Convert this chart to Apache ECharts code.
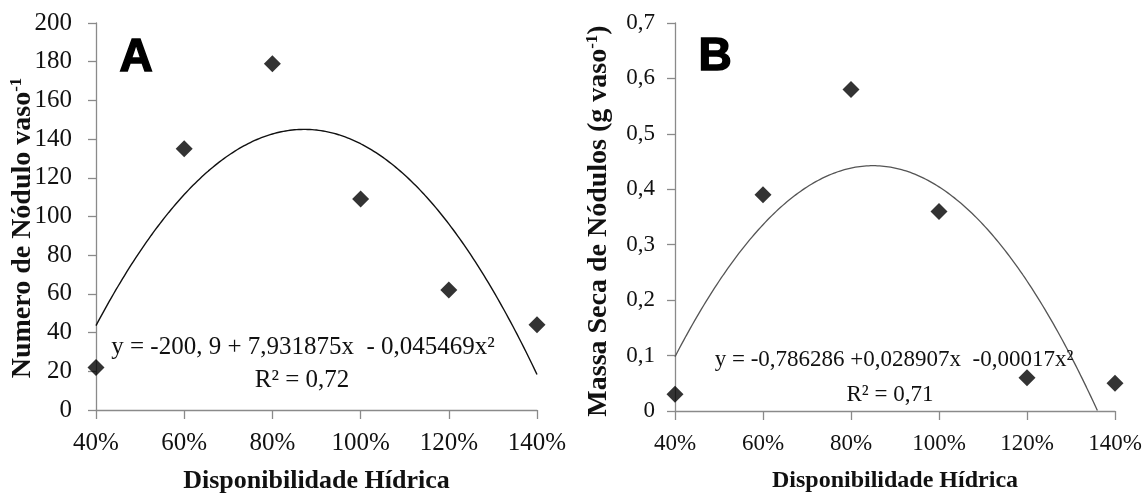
<!DOCTYPE html>
<html>
<head>
<meta charset="utf-8">
<script src="https://cdn.jsdelivr.net/npm/echarts@6/dist/echarts.min.js"></script>
<style>html,body{margin:0;padding:0;background:#fff}#c{width:1146px;height:499px}</style>
</head>
<body>
<div id="c"></div>
<script>
// ---- data ----
const waterLevels = [40, 60, 80, 100, 120, 140];          // Disponibilidade Hídrica (%)
const noduleCount = [22, 135, 179, 109, 62, 44];          // Panel A
const noduleMass = [0.03, 0.39, 0.58, 0.36, 0.06, 0.05];  // Panel B
// fitted quadratic coefficients printed on the chart: y = c0 + c1*x + c2*x^2
const fitA = [-200.9, 7.931875, -0.045469];
const fitB = [-0.786286, 0.028907, -0.00017];
const eqA = ['y = -200, 9 + 7,931875x  - 0,045469x²', 'R² = 0,72'];
const eqB = ['y = -0,786286 +0,028907x  -0,00017x²', 'R² = 0,71'];

const serif = '"Liberation Serif", "Times New Roman", serif';

function fitCurve(c, x0, x1) {
  const pts = [];
  const f = x => c[0] + c[1] * x + c[2] * x * x;
  for (let x = x0; x <= x1 + 1e-9; x += 0.5) {
    const y = f(x);
    if (y >= 0) pts.push([x, y]);
    else {
      // end the curve where it meets the x axis
      const d = Math.sqrt(c[1] * c[1] - 4 * c[2] * c[0]);
      const r = (-c[1] - d) / (2 * c[2]);
      pts.push([r, 0]);
      break;
    }
  }
  return pts;
}

const axisColor = '#8a8a8a';

function xAxisCfg(gi, fs, nfs) {
  return {
    gridIndex: gi, type: 'value', min: 40, max: 140, interval: 20,
    axisLine: { lineStyle: { color: axisColor, width: 1.3 } },
    axisTick: { show: true, length: 9, lineStyle: { color: axisColor, width: 1.3 } },
    splitLine: { show: false },
    axisLabel: { color: '#111', fontFamily: serif, fontSize: fs, margin: 21, formatter: v => v + '%' },
    name: 'Disponibilidade Hídrica', nameLocation: 'middle', nameGap: 58,
    nameTextStyle: { color: '#111', fontFamily: serif, fontSize: nfs, fontWeight: 'bold' }
  };
}

const option = {
  animation: false,
  backgroundColor: '#fff',
  grid: [
    { left: 96, right: 609, top: 23, bottom: 89 },
    { left: 675, right: 31, top: 23, bottom: 88 }
  ],
  xAxis: [xAxisCfg(0, 25, 26), xAxisCfg(1, 23, 24)],
  yAxis: [
    {
      gridIndex: 0, type: 'value', min: 0, max: 200, interval: 20,
      axisLine: { show: true, lineStyle: { color: axisColor, width: 1.3 } },
      axisTick: { show: true, length: 8, lineStyle: { color: axisColor, width: 1.3 } },
      splitLine: { show: false },
      axisLabel: { color: '#111', fontFamily: serif, fontSize: 25, margin: 24 }
    },
    {
      gridIndex: 1, type: 'value', min: 0, max: 0.7, interval: 0.1,
      axisLine: { show: true, lineStyle: { color: axisColor, width: 1.3 } },
      axisTick: { show: true, length: 8, lineStyle: { color: axisColor, width: 1.3 } },
      splitLine: { show: false },
      axisLabel: { color: '#111', fontFamily: serif, fontSize: 23, margin: 20,
        formatter: v => String(+v.toFixed(1)).replace('.', ',') }
    }
  ],
  series: [
    {
      type: 'line', xAxisIndex: 0, yAxisIndex: 0, data: fitCurve(fitA, 40, 140),
      showSymbol: false, silent: true, lineStyle: { color: '#111', width: 1.4 }, z: 2
    },
    {
      type: 'scatter', xAxisIndex: 0, yAxisIndex: 0,
      data: waterLevels.map((x, i) => [x, noduleCount[i]]),
      symbol: 'diamond', symbolSize: 17, itemStyle: { color: '#000' }, z: 3
    },
    {
      type: 'line', xAxisIndex: 1, yAxisIndex: 1, data: fitCurve(fitB, 40, 140),
      showSymbol: false, silent: true, lineStyle: { color: '#555', width: 1.3 }, z: 2
    },
    {
      type: 'scatter', xAxisIndex: 1, yAxisIndex: 1,
      data: waterLevels.map((x, i) => [x, noduleMass[i]]),
      symbol: 'diamond', symbolSize: 17, itemStyle: { color: '#000' }, z: 3
    }
  ],
  graphic: [
    { type: 'text', x: 136, y: 58, z: 10,
      style: { text: 'A', fontFamily: '"Liberation Sans", Arial, sans-serif', fontWeight: 'bold', fontSize: 46,
        fill: '#000', align: 'center', verticalAlign: 'middle', stroke: '#000', lineWidth: 1.5 } },
    { type: 'text', x: 715, y: 57, z: 10,
      style: { text: 'B', fontFamily: '"Liberation Sans", Arial, sans-serif', fontWeight: 'bold', fontSize: 46,
        fill: '#000', align: 'center', verticalAlign: 'middle', stroke: '#000', lineWidth: 1.5 } },
    { type: 'text', x: 23, y: 228, rotation: Math.PI / 2, z: 10,
      style: { text: '{b|Numero de Nódulo vaso}{s|-1}', align: 'center', verticalAlign: 'middle',
        rich: {
          b: { fontFamily: serif, fontWeight: 'bold', fontSize: 28, lineHeight: 30, fill: '#111', color: '#111' },
          s: { fontFamily: serif, fontWeight: 'bold', fontSize: 17, lineHeight: 30, verticalAlign: 'top', padding: [0, 0, 10, 0], fill: '#111', color: '#111' }
        } } },
    { type: 'text', x: 599, y: 221, rotation: Math.PI / 2, z: 10,
      style: { text: '{b|Massa Seca de Nódulos (g vaso}{s|-1}{b|)}', align: 'center', verticalAlign: 'middle',
        rich: {
          b: { fontFamily: serif, fontWeight: 'bold', fontSize: 28, lineHeight: 30, fill: '#111', color: '#111' },
          s: { fontFamily: serif, fontWeight: 'bold', fontSize: 17, lineHeight: 30, verticalAlign: 'top', padding: [0, 0, 10, 0], fill: '#111', color: '#111' }
        } } },
    { type: 'text', x: 303, y: 347, z: 10,
      style: { text: eqA[0], fontFamily: serif, fontSize: 25, fill: '#111', align: 'center', verticalAlign: 'middle' } },
    { type: 'text', x: 302, y: 380, z: 10,
      style: { text: eqA[1], fontFamily: serif, fontSize: 25, fill: '#111', align: 'center', verticalAlign: 'middle' } },
    { type: 'text', x: 894, y: 360, z: 10,
      style: { text: eqB[0], fontFamily: serif, fontSize: 23, fill: '#111', align: 'center', verticalAlign: 'middle' } },
    { type: 'text', x: 890, y: 395, z: 10,
      style: { text: eqB[1], fontFamily: serif, fontSize: 23, fill: '#111', align: 'center', verticalAlign: 'middle' } }
  ]
};

const chart = echarts.init(document.getElementById('c'), null, { renderer: 'canvas' });
chart.setOption(option);
</script>
</body>
</html>
